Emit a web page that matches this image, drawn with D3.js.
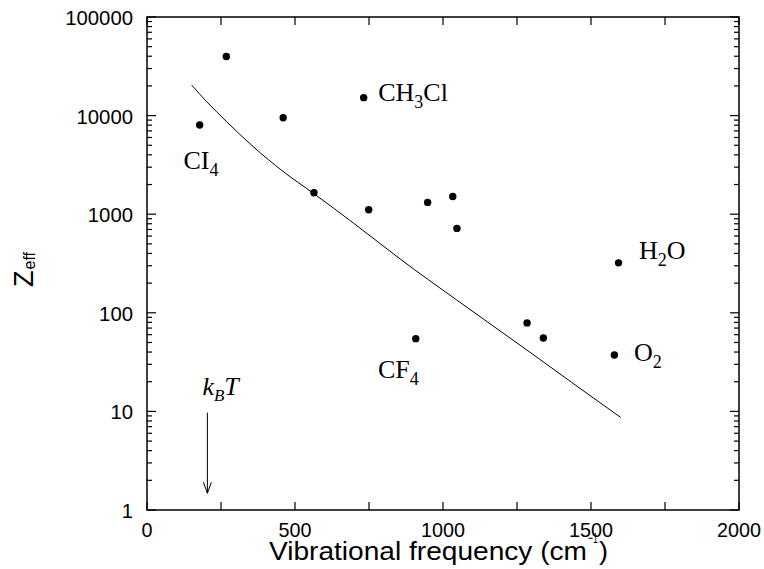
<!DOCTYPE html>
<html><head><meta charset="utf-8">
<script src="https://cdn.jsdelivr.net/npm/d3@7"></script>
<style>body{margin:0;background:#fff}</style>
</head><body>
<svg id="c" width="764" height="569"></svg>
<script>
// Measured molecules: vibrational frequency (cm^-1) and Z_eff
const freqs = [178, 268, 460, 564, 732, 749, 908, 948, 1033, 1047, 1284, 1339, 1579, 1593];
const zeff  = [8040, 39800, 9520, 1650, 15200, 1110, 54.7, 1318, 1513, 718, 79, 55.5, 37.3, 321];
// Model curve
const curveX = [151, 202, 269, 359, 460, 562, 697, 787, 855, 1046, 1283, 1463, 1600];
const curveY = [20400, 13800, 8670, 4840, 2710, 1630, 815, 505, 352, 135, 42, 17.1, 8.7];
// Tick labels
const xTicks = [0, 500, 1000, 1500, 2000];
const yTicks = [1, 10, 100, 1000, 10000, 100000];
// Molecule annotations (main text, subscript, trailing text), anchored in data space
const annText = [["CI", "4", ""], ["CH", "3", "Cl"], ["H", "2", "O"], ["O", "2", ""], ["CF", "4", ""]];
const annX = [123, 781, 1662, 1645, 780];
const annY = [2850, 14160, 349, 32.7, 21.8];
// kT marker
const kTfreq = 204;
const kTrange = [9.7, 1.48];

const svg = d3.select("#c");
const L = 147, R = 739, T = 17, B = 510;
const x = d3.scaleLinear().domain([0, 2000]).range([L, R]);
const y = d3.scaleLog().domain([1, 100000]).range([B, T]);

const sans = "'Liberation Sans', Arial, sans-serif";
const serif = "'Liberation Serif', 'Times New Roman', serif";

// minor log ticks
const minorY = [];
for (let d = 1; d < 100000; d *= 10) for (let k = 2; k <= 9; k++) minorY.push(d * k);
const xMinor = d3.range(0, 2001, 250);

const g = svg.append("g");
// frame
g.append("rect").attr("x", L).attr("y", T).attr("width", R - L).attr("height", B - T)
  .attr("fill", "none").attr("stroke", "#000").attr("stroke-width", 1.5);

// y ticks left & right
function yT(vals, len) {
  vals.forEach(v => {
    g.append("line").attr("x1", L).attr("x2", L + len).attr("y1", y(v)).attr("y2", y(v)).attr("stroke", "#000").attr("stroke-width", 1.2);
    g.append("line").attr("x1", R).attr("x2", R - len).attr("y1", y(v)).attr("y2", y(v)).attr("stroke", "#000").attr("stroke-width", 1.2);
  });
}
yT(yTicks, 9);
yT(minorY, 5);
// x ticks bottom & top
xMinor.forEach(v => {
  g.append("line").attr("x1", x(v)).attr("x2", x(v)).attr("y1", B).attr("y2", B - 8).attr("stroke", "#000").attr("stroke-width", 1.2);
  g.append("line").attr("x1", x(v)).attr("x2", x(v)).attr("y1", T).attr("y2", T + 8).attr("stroke", "#000").attr("stroke-width", 1.2);
});

// tick labels (narrow look via textLength)
g.selectAll(".yl").data(yTicks).enter().append("text")
  .attr("x", L - 14).attr("y", d => y(d) + 8).attr("text-anchor", "end")
  .attr("font-family", sans).attr("font-size", 21)
  .attr("textLength", d => String(d).length * 11.3).attr("lengthAdjust", "spacingAndGlyphs")
  .text(d => d);
g.selectAll(".xl").data(xTicks).enter().append("text")
  .attr("x", d => x(d)).attr("y", B + 27).attr("text-anchor", "middle")
  .attr("font-family", sans).attr("font-size", 21)
  .attr("textLength", d => String(d).length * 11).attr("lengthAdjust", "spacingAndGlyphs")
  .text(d => d);

// axis titles
g.append("text").attr("x", 269).attr("y", 560).attr("font-family", sans).attr("font-size", 25.5)
  .attr("textLength", 318).attr("lengthAdjust", "spacingAndGlyphs").text("Vibrational frequency (cm");
g.append("text").attr("x", 588).attr("y", 543).attr("font-family", sans).attr("font-size", 15)
  .attr("textLength", 10).attr("lengthAdjust", "spacingAndGlyphs").text("−1");
g.append("text").attr("x", 599).attr("y", 560).attr("font-family", sans).attr("font-size", 25.5)
  .attr("textLength", 9).attr("lengthAdjust", "spacingAndGlyphs").text(")");

const yt = g.append("text").attr("transform", "translate(33,287) rotate(-90)").attr("font-family", sans).attr("font-size", 27);
yt.append("tspan").text("Z");
yt.append("tspan").attr("dy", 2).attr("dx", 1).attr("font-size", 16).text("eff");

// curve
g.append("path").datum(curveX.map((v, i) => [v, curveY[i]]))
  .attr("d", d3.line().x(d => x(d[0])).y(d => y(d[1])).curve(d3.curveMonotoneX))
  .attr("fill", "none").attr("stroke", "#000").attr("stroke-width", 1);

// points
g.selectAll(".pt").data(freqs).enter().append("circle")
  .attr("cx", d => x(d)).attr("cy", (d, i) => y(zeff[i])).attr("r", 3.7).attr("fill", "#000");

// annotations
annText.forEach((a, i) => {
  const t = g.append("text").attr("x", x(annX[i])).attr("y", y(annY[i]))
    .attr("font-family", serif).attr("font-size", 26);
  t.append("tspan").text(a[0]);
  t.append("tspan").attr("dy", 7).attr("font-size", 18).text(a[1]);
  if (a[2]) t.append("tspan").attr("dy", -7).text(a[2]);
});

// kT label and arrow
const kt = g.append("text").attr("x", x(kTfreq) - 5).attr("y", y(14.7))
  .attr("font-family", serif).attr("font-size", 26).attr("font-style", "italic");
kt.append("tspan").text("k");
kt.append("tspan").attr("dy", 6).attr("font-size", 17).text("B");
kt.append("tspan").attr("dy", -6).text("T");
const ax = x(kTfreq), ay1 = y(kTrange[0]), ay2 = y(kTrange[1]);
g.append("line").attr("x1", ax).attr("x2", ax).attr("y1", ay1).attr("y2", ay2).attr("stroke", "#000").attr("stroke-width", 1);
g.append("path").attr("d", `M${ax - 4},${ay2 - 11}L${ax},${ay2}L${ax + 4},${ay2 - 11}`)
  .attr("fill", "none").attr("stroke", "#000").attr("stroke-width", 1);
</script>
</body></html>
